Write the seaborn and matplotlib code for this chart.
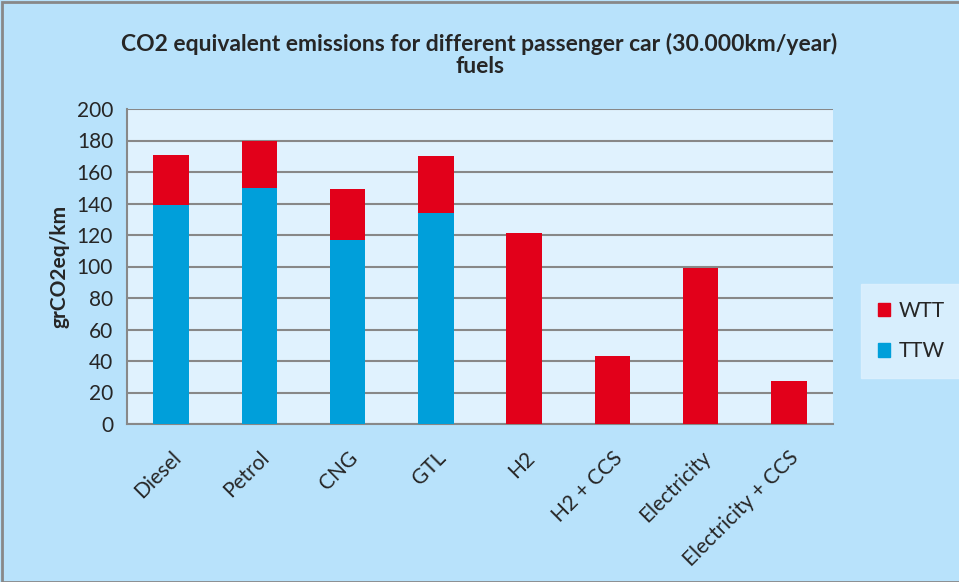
import numpy as np
import pandas as pd
import seaborn as sns
import matplotlib.pyplot as plt
import matplotlib.patches as mpatches

# ===============================
# DATA
# ===============================
fuels = ["Diesel", "Petrol", "CNG", "GTL", "H2", "H2 + CCS", "Electricity", "Electricity + CCS"]
ttw = [139, 150, 117, 134, 0, 0, 0, 0]
wtt = [32, 30, 32, 36, 121, 43, 99, 27]

df = pd.DataFrame({"fuel": fuels, "TTW": ttw, "WTT": wtt})
df["total"] = df["TTW"] + df["WTT"]

# ===============================
# STYLE
# ===============================
sns.set_style("white")
plt.rcParams["font.family"] = ["Lato", "DejaVu Sans"]

red = "#E2001A"
blue = "#009FDA"
outer_bg = "#B8E2FB"
inner_bg = "#E0F2FE"

fig = plt.figure(figsize=(9.59, 5.82), dpi=100, facecolor=outer_bg)
ax = fig.add_axes([127 / 959, 1 - 424 / 582, (833 - 127) / 959, (424 - 109) / 582])
ax.set_facecolor(inner_bg)

# stacked bars: total (red WTT) behind, TTW (blue) in front
sns.barplot(data=df, x="fuel", y="total", color=red, width=0.4, saturation=1,
            linewidth=0, ax=ax, zorder=3)
sns.barplot(data=df, x="fuel", y="TTW", color=blue, width=0.4, saturation=1,
            linewidth=0, ax=ax, zorder=4)

ax.set_ylim(0, 200)
ax.set_yticks(range(0, 201, 20))
ax.set_xlim(-0.5, len(fuels) - 0.5)
ax.yaxis.grid(True, color="#888888", linewidth=1.5, zorder=0)
ax.set_axisbelow(True)

for s in ["top", "right"]:
    ax.spines[s].set_visible(False)
for s in ["left", "bottom"]:
    ax.spines[s].set_color("#888888")
    ax.spines[s].set_linewidth(1.5)

# x ticks at category boundaries
ax.set_xticks(np.arange(len(fuels)))
ax.set_xticklabels(fuels, rotation=45, ha="right", rotation_mode="anchor", fontsize=15)
ax.tick_params(axis="x", length=0, pad=17)
ax.set_xticks(np.arange(-0.5, len(fuels)), minor=True)
ax.tick_params(axis="x", which="minor", length=6, width=1.5, color="#888888", direction="out")
ax.tick_params(axis="y", length=6, width=1.5, color="#888888", direction="out", labelsize=15, pad=4)

ax.set_xlabel("")
ax.set_ylabel("grCO2eq/km", fontsize=15, fontweight="bold", labelpad=5)

fig.text(0.5, 1 - 55 / 582, "CO2 equivalent emissions for different passenger car (30.000km/year)\nfuels",
         ha="center", va="center", fontsize=16.5, fontweight="bold", linespacing=1.05)

# legend
handles = [mpatches.Patch(color=red, label="WTT"), mpatches.Patch(color=blue, label="TTW")]
fig.legend(handles=handles, loc="center left", bbox_to_anchor=(861 / 959, 1 - 331 / 582),
           frameon=True, facecolor=inner_bg, edgecolor=inner_bg, fancybox=False,
           fontsize=15, handlelength=0.6, handleheight=0.6, labelspacing=1.0,
           borderpad=0.8, handletextpad=0.4, borderaxespad=0)

# outer border
fig.patches.append(mpatches.Rectangle((0.002, 0), 1.2, 0.996, transform=fig.transFigure,
                                      fill=False, edgecolor="#888888", linewidth=2))

fig.savefig("out.png", dpi=100, facecolor=outer_bg)
